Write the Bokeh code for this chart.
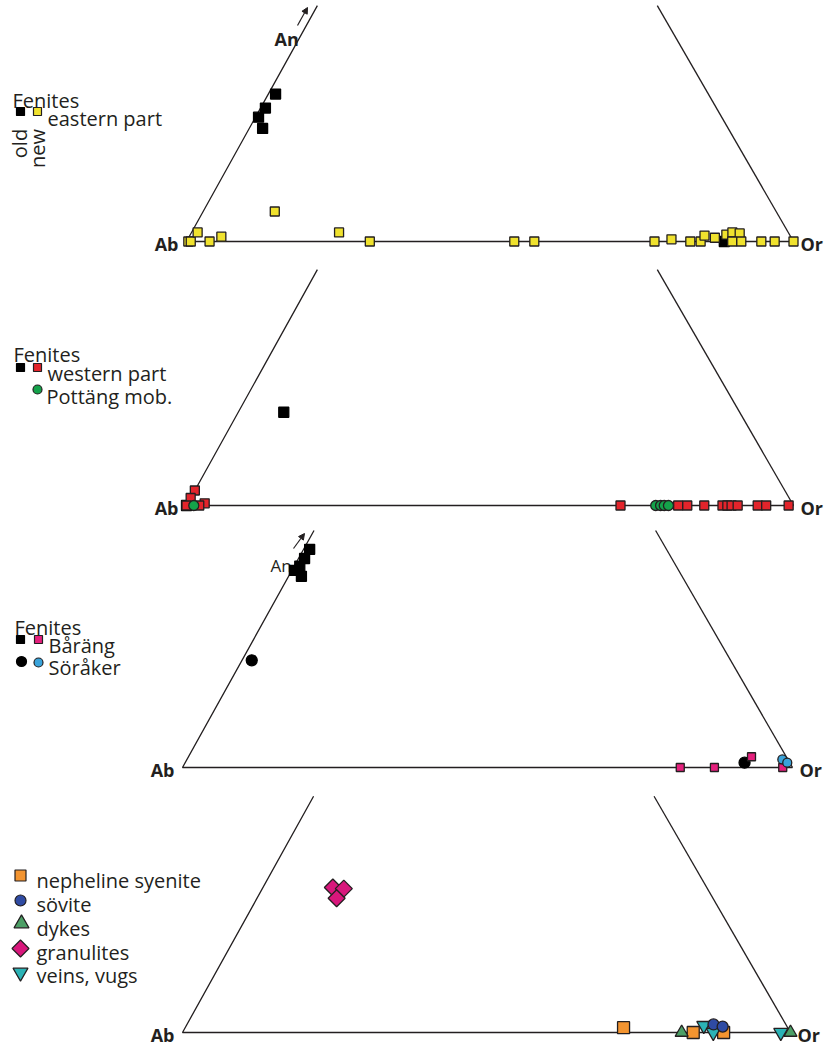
import math
from bokeh.plotting import figure
from bokeh.models import Range1d, Arrow, NormalHead
from bokeh.core.properties import value
from bokeh.embed import file_html
from bokeh.resources import INLINE

# ---------------------------------------------------------------
# Feldspar compositions, mol% An and mol% Or (Ab = 100 - An - Or)
# ---------------------------------------------------------------

# Fenites, eastern part
east_old_an = [27.5, 24.9, 23.2, 21.1, 0.0]
east_old_or = [1.2, 0.8, 0.5, 2.2, 88.6]
east_new_an = [0.0, 0.0, 1.7, 0.0, 0.9, 5.6, 1.7, 0.0, 0.0, 0.0, 0.0, 0.4,
               0.0, 0.0, 1.1, 0.7, 1.3, 1.7, 1.5, 0.0, 0.0, 0.0, 0.0, 0.0]
east_new_or = [0.3, 0.7, 1.0, 3.8, 5.3, 11.8, 24.3, 30.2, 54.0, 57.3, 77.1, 79.7,
               83.0, 84.7, 84.8, 86.7, 88.3, 89.1, 90.4, 89.9, 91.4, 94.7, 96.9, 100.0]

# Fenites, western part, and Pottäng mobilisate
west_old_an = [17.4, 0.0]
west_old_or = [7.5, 0.0]
west_new_an = [2.8, 1.4, 0.0, 0.4, 0.0, 0.0, 0.0, 0.0, 0.0, 0.0, 0.0, 0.0,
               0.0, 0.0, 0.0, 0.0]
west_new_or = [0.0, 0.0, 0.0, 2.8, 2.1, 71.5, 81.0, 82.5, 85.3, 88.3, 89.1, 89.8,
               90.8, 94.1, 95.5, 99.2]
pottang_an = [0.0, 0.0, 0.0, 0.0, 0.0]
pottang_or = [1.2, 77.3, 78.1, 78.7, 79.4]

# Fenites, Båräng and Söråker
barang_old_an = [40.5, 38.8, 37.4, 36.6, 35.5]
barang_old_or = [1.0, 1.0, 0.9, 0.4, 2.1]
barang_new_an = [0.0, 0.0, 2.0, 0.0]
barang_new_or = [81.6, 87.2, 92.3, 98.4]
soraker_old_an = [19.9, 0.9]
soraker_old_or = [1.6, 91.7]
soraker_new_an = [1.5, 0.9]
soraker_new_or = [97.6, 98.7]

# Alkaline rocks
nepheline_an = [0.9, 0.0, 0.0]
nepheline_or = [72.1, 84.0, 89.0]
sovite_an = [1.5, 1.1]
sovite_or = [86.6, 88.3]
dykes_an = [0.0, 0.0]
dykes_or = [82.1, 100.0]
granulites_an = [27.0, 26.8, 25.0]
granulites_or = [11.5, 13.4, 13.1]
veins_an = [1.3, 0.0, 0.0]
veins_or = [85.1, 87.3, 98.4]

# ---------------------------------------------------------------
# Layout of the four truncated Ab-An-Or triangles (screen pixels)
# ---------------------------------------------------------------
PANELS = [
    dict(ab_x=186, base_y=241, width=607),
    dict(ab_x=186, base_y=505, width=607),
    dict(ab_x=182, base_y=767, width=610),
    dict(ab_x=182, base_y=1032, width=608),
]
APEX_SHIFT = 0.49     # horizontal position of the An apex along the base
APEX_HEIGHT = 0.883   # apex height relative to the base length
AN_CUT = 44.0         # the triangles are cut off at this An content

INK = "#231F20"
FONT = value("Open Sans")


def tern(panel, an, orth):
    """Project (An, Or) percentages onto the panel's triangle."""
    pl = PANELS[panel]
    xs, ys = [], []
    for a, o in zip(an, orth):
        a, o = a / 100.0, o / 100.0
        xs.append(pl["ab_x"] + pl["width"] * (o + APEX_SHIFT * a))
        ys.append(pl["base_y"] - pl["width"] * APEX_HEIGHT * a)
    return xs, ys


p = figure(width=829, height=1045, x_range=Range1d(0, 829), y_range=Range1d(1045, 0),
           output_backend="svg", toolbar_location=None, min_border=0)
p.axis.visible = False
p.grid.visible = False
p.outline_line_color = None
p.background_fill_color = "white"
p.border_fill_color = "white"

# triangle outlines with corner labels
for i in range(4):
    lx, ly = tern(i, [AN_CUT, 0, 0], [0, 0, 100])
    rx, ry = tern(i, [0, AN_CUT], [100, 100 - AN_CUT])
    p.line(lx, ly, line_color=INK, line_width=1.3)
    p.line(rx, ry, line_color=INK, line_width=1.3)
    pl = PANELS[i]
    p.text(x=[pl["ab_x"] - 8], y=[pl["base_y"] + 2], text=["Ab"], text_font=FONT,
           text_font_size="18px", text_font_style="bold", text_align="right",
           text_baseline="alphabetic", text_color=INK)
    p.text(x=[pl["ab_x"] + pl["width"] + 7], y=[pl["base_y"] + 2], text=["Or"], text_font=FONT,
           text_font_size="18px", text_font_style="bold", text_align="left",
           text_baseline="alphabetic", text_color=INK)

# An labels with arrows pointing towards the apex
p.text(x=[274], y=[38], text=["An"], text_font=FONT, text_font_size="18px",
       text_font_style="bold", text_baseline="alphabetic", text_color=INK)
p.add_layout(Arrow(end=NormalHead(size=6, fill_color=INK, line_color=INK),
                   x_start=297, y_start=25, x_end=307, y_end=7, line_color=INK, line_width=1.2))
p.text(x=[270], y=[565], text=["An"], text_font=FONT, text_font_size="17px",
       text_baseline="alphabetic", text_color=INK)
p.add_layout(Arrow(end=NormalHead(size=6, fill_color=INK, line_color=INK),
                   x_start=293, y_start=548, x_end=304, y_end=533, line_color=INK, line_width=1.2))


def pts(panel, an, orth, marker, size, color, line=INK, angle=0.0, lw=1.3):
    x, y = tern(panel, an, orth)
    p.scatter(x, y, marker=marker, size=size, fill_color=color, line_color=line,
              line_width=lw, angle=angle)


YELLOW = "#F0E22E"
RED = "#E3242B"
GREEN = "#14A24A"
PINK = "#E5207D"
SKY = "#3AA3DA"
ORANGE = "#F39430"
NAVY = "#2F4BA3"
LEAF = "#4C9F66"
CERISE = "#D8177C"
TEAL = "#2BB3B6"

# panel 1
pts(0, east_old_an, east_old_or, "square", 10, "black", line="black")
pts(0, east_new_an, east_new_or, "square", 9, YELLOW)
# panel 2
pts(1, west_old_an, west_old_or, "square", 10, "black", line="black")
pts(1, west_new_an, west_new_or, "square", 9, RED)
pts(1, pottang_an, pottang_or, "circle", 10, GREEN)
# panel 3
pts(2, barang_old_an, barang_old_or, "square", 10, "black", line="black")
pts(2, soraker_old_an, soraker_old_or, "circle", 11, "black", line="black")
pts(2, barang_new_an, barang_new_or, "square", 8, PINK)
pts(2, soraker_new_an, soraker_new_or, "circle", 9, SKY)
# panel 4
pts(3, nepheline_an, nepheline_or, "square", 12, ORANGE)
pts(3, dykes_an, dykes_or, "triangle", 13, LEAF)
pts(3, veins_an, veins_or, "inverted_triangle", 14, TEAL)
pts(3, sovite_an, sovite_or, "circle", 11, NAVY)
pts(3, granulites_an, granulites_or, "square", 12, CERISE, angle=math.pi / 4)


# ---------------------------------------------------------------
# Keys
# ---------------------------------------------------------------
def label(x, y, s, size="20px"):
    p.text(x=[x], y=[y], text=[s], text_font=FONT, text_font_size=size,
           text_baseline="alphabetic", text_align="left", text_color=INK)


def key(x, y, marker, size, color, line=INK, angle=0.0):
    p.scatter([x], [y], marker=marker, size=size, fill_color=color, line_color=line,
              line_width=1.2, angle=angle)


label(12, 100, "Fenites")
key(20, 111, "square", 8, "black", line="black")
key(37, 111, "square", 8, YELLOW)
label(47, 118, "eastern part")
p.text(x=[19, 37], y=[143, 148], text=["old", "new"], text_font=FONT, text_font_size="20px",
       text_align="center", text_baseline="middle", angle=math.pi / 2, text_color=INK)

label(13, 354, "Fenites")
key(20, 367, "square", 8, "black", line="black")
key(37, 367, "square", 8, RED)
label(47, 373, "western part")
key(37, 389, "circle", 9, GREEN)
label(46, 396, "Pottäng mob.")

label(14, 627, "Fenites")
key(20, 639, "square", 8, "black", line="black")
key(38, 639, "square", 8, PINK)
label(48, 645, "Båräng")
key(21, 661, "circle", 10, "black", line="black")
key(38, 662, "circle", 9, SKY)
label(48, 667, "Söråker")

key(20, 875, "square", 11, ORANGE)
label(36, 880, "nepheline syenite")
key(20, 900, "circle", 11, NAVY)
label(36, 904, "sövite")
key(21, 923, "triangle", 15, LEAF)
label(36, 928, "dykes")
key(20, 948, "square", 12, CERISE, angle=math.pi / 4)
label(36, 952, "granulites")
key(20, 972, "inverted_triangle", 15, TEAL)
label(36, 975, "veins, vugs")

open("out.html", "w").write(file_html(p, INLINE))
